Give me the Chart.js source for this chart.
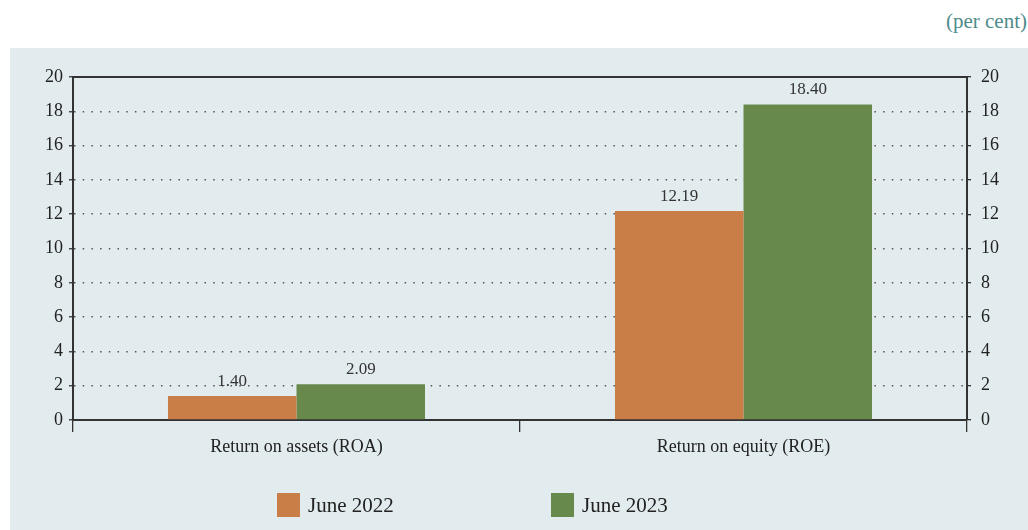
<!DOCTYPE html>
<html>
<head>
<meta charset="utf-8">
<script src="https://cdn.jsdelivr.net/npm/chart.js@4.4.0/dist/chart.umd.min.js"></script>
<style>
  body { margin: 0; background: #ffffff; width: 1028px; height: 530px; overflow: hidden; position: relative; }
  #unit { position: absolute; right: 1px; top: 9px; font-family: "Liberation Serif", "DejaVu Serif", serif; font-size: 21px; color: #4f8b8c; }
  #panel { position: absolute; left: 10px; top: 48px; width: 1018px; height: 482px; background: #e2ecee; }
</style>
</head>
<body>
<div id="unit">(per cent)</div>
<div id="panel"><canvas id="ratios" width="1018" height="482"></canvas></div>
<script>
// categorias y valores
const categorias = ['Return on assets (ROA)', 'Return on equity (ROE)'];
const junio2022 = [1.40, 12.19];
const junio2023 = [2.09, 18.40];
const series = ['June 2022', 'June 2023'];
const colores = ['#c97d47', '#67894c'];
const yTicks = [0, 2, 4, 6, 8, 10, 12, 14, 16, 18, 20];

const serif = '"Liberation Serif", "DejaVu Serif", serif';
const ink = '#333333';

// etiquetas de valor encima de cada barra
const valoresPlugin = {
  id: 'valores',
  afterDatasetsDraw(chart) {
    const ctx = chart.ctx;
    ctx.save();
    ctx.font = '17px ' + serif;
    ctx.fillStyle = ink;
    ctx.textAlign = 'center';
    ctx.textBaseline = 'bottom';
    chart.data.datasets.forEach((ds, i) => {
      chart.getDatasetMeta(i).data.forEach((bar, j) => {
        ctx.fillText(ds.data[j].toFixed(2), bar.x, bar.y - 6);
      });
    });
    ctx.restore();
  }
};

// leyenda abajo, con mucho espacio entre elementos
const leyendaPlugin = {
  id: 'leyenda',
  afterDraw(chart) {
    const ctx = chart.ctx;
    const area = chart.chartArea;
    ctx.save();
    ctx.font = '21px ' + serif;
    ctx.textBaseline = 'middle';
    let x = area.left + 204;
    const y = area.bottom + 73;
    chart.data.datasets.forEach(ds => {
      ctx.fillStyle = ds.backgroundColor;
      ctx.fillRect(x, y, 23, 24);
      ctx.fillStyle = '#222222';
      ctx.fillText(ds.label, x + 31, y + 13);
      x += 274;
    });
    ctx.restore();
  }
};

function Loadchart() {
  const ctx = document.getElementById('ratios').getContext('2d');
  new Chart(ctx, {
    type: 'bar',
    data: {
      labels: categorias,
      datasets: [
        { label: series[0], data: junio2022, backgroundColor: colores[0], borderWidth: 0 },
        { label: series[1], data: junio2023, backgroundColor: colores[1], borderWidth: 0 }
      ]
    },
    options: {
      responsive: false,
      animation: false,
      layout: { padding: { top: 29, left: 0, right: 0, bottom: 0 } },
      datasets: { bar: { categoryPercentage: 0.575, barPercentage: 1 } },
      plugins: {
        legend: { display: false },
        tooltip: { enabled: false }
      },
      scales: {
        x: {
          grid: { offset: true, drawOnChartArea: false, drawTicks: true, tickLength: 12, color: ink, lineWidth: 1.3 },
          border: { color: ink, width: 2 },
          ticks: { color: '#222222', font: { family: serif, size: 18 }, padding: 4 },
          afterFit(scale) { scale.height = 110; }
        },
        top: {
          position: 'top',
          grid: { display: false },
          border: { color: ink, width: 2 },
          ticks: { display: false },
          afterFit(scale) { scale.height = 0; }
        },
        y: {
          min: 0, max: 20,
          afterBuildTicks(scale) { scale.ticks = yTicks.map(v => ({ value: v })); },
          grid: {
            color: c => (c.tick && (c.tick.value === 0 || c.tick.value === 20)) ? 'rgba(0,0,0,0)' : '#555555',
            lineWidth: 1.5,
            tickLength: 4,
            tickColor: ink,
            tickWidth: 1.3
          },
          border: { color: ink, width: 2, dash: [1.5, 7.2] },
          ticks: { color: '#222222', font: { family: serif, size: 18 }, padding: 6 },
          afterFit(scale) { scale.width = 63; }
        },
        y2: {
          position: 'right',
          min: 0, max: 20,
          afterBuildTicks(scale) { scale.ticks = yTicks.map(v => ({ value: v })); },
          grid: { drawOnChartArea: false, tickLength: 4, color: ink, lineWidth: 1.3 },
          border: { color: ink, width: 2 },
          ticks: { color: '#222222', font: { family: serif, size: 18 }, padding: 10 },
          afterFit(scale) { scale.width = 61; }
        }
      }
    },
    plugins: [valoresPlugin, leyendaPlugin]
  });
}

Loadchart();
</script>
</body>
</html>
